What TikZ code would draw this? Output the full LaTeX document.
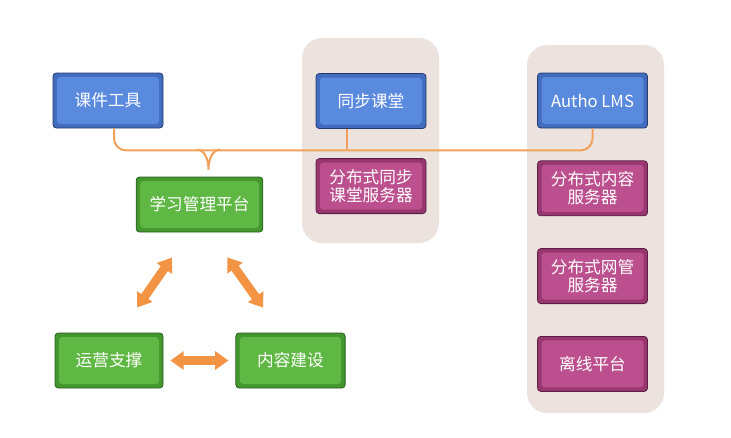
\documentclass[tikz,border=0pt]{standalone}
\usepackage{fontspec}
\setmainfont{Noto Sans CJK SC}
\usetikzlibrary{arrows.meta,positioning}

\definecolor{blueMid}{RGB}{90,138,222}
\definecolor{blueEdge}{RGB}{66,108,190}
\definecolor{blueLine}{RGB}{38,58,110}
\definecolor{greenMid}{RGB}{96,184,68}
\definecolor{greenEdge}{RGB}{68,150,46}
\definecolor{greenLine}{RGB}{40,96,30}
\definecolor{pinkMid}{RGB}{188,80,142}
\definecolor{pinkEdge}{RGB}{152,54,112}
\definecolor{pinkLine}{RGB}{92,30,70}
\definecolor{panel}{RGB}{236,227,223}
\definecolor{linkOrange}{RGB}{240,162,92}
\definecolor{arrowOrange}{RGB}{242,148,68}

\begin{document}
\begin{tikzpicture}[x=0.75pt,y=-0.75pt]

      \tikzstyle{box}=[rectangle,rounded corners=2.5pt,
        minimum width=82.5pt,minimum height=41.25pt,
        text centered,align=center,text=white,line width=0.6pt,
        font=\fontsize{12.5}{13.5}\selectfont]
      \tikzstyle{bluebox}=[box,draw=blueLine,fill=blueEdge,
        path picture={\fill[blueMid]
          ([shift={(3pt,-3pt)}]path picture bounding box.north west) rectangle
          ([shift={(-3pt,3pt)}]path picture bounding box.south east);}]
      \tikzstyle{greenbox}=[box,draw=greenLine,fill=greenEdge,
        path picture={\fill[greenMid]
          ([shift={(3pt,-3pt)}]path picture bounding box.north west) rectangle
          ([shift={(-3pt,3pt)}]path picture bounding box.south east);}]
      \tikzstyle{pinkbox}=[box,draw=pinkLine,fill=pinkEdge,
        path picture={\fill[pinkMid]
          ([shift={(3pt,-3pt)}]path picture bounding box.north west) rectangle
          ([shift={(-3pt,3pt)}]path picture bounding box.south east);}]
      \tikzstyle{link}=[draw=linkOrange,line width=1.5pt]
      \tikzstyle{bigarrow}=[draw=arrowOrange,line width=6.5pt,
        {Triangle[width=13.5pt,length=10pt]}-{Triangle[width=13.5pt,length=10pt]}]

      \useasboundingbox[fill=white] (0,0) rectangle (731,437);

      % grey panels
      \fill[panel,rounded corners=15pt] (302,38) rectangle (439,243);
      \fill[panel,rounded corners=15pt] (527,45) rectangle (664,413);

      \node(KeJian)[bluebox] at (108,100.5){课件工具};
      \node(XueXi)[greenbox,minimum width=95pt] at (199.5,204.5){学习管理平台};

      \node(TongBu)[bluebox] at (371,101){同步课堂};
      \node(TongBuServer)[pinkbox,below=22pt of TongBu]{分布式同步\\课堂服务器};

      \node(Autho)[bluebox] at (592.5,100.5){Autho LMS};
      \node(ContentServer)[pinkbox,below=24pt of Autho]{分布式内容\\服务器};
      \node(NetServer)[pinkbox,below=24pt of ContentServer]{分布式网管\\服务器};
      \node(Offline)[pinkbox,below=24pt of NetServer]{离线平台};

      \node(YunYing)[greenbox,minimum width=81pt] at (109,360.5){运营支撑};
      \node(NeiRong)[greenbox,minimum width=82pt,
        right=54pt of YunYing]{内容建设};

      % orange connector
      \draw[link,rounded corners=9pt]
      ([xshift=4.5pt]KeJian.south) -- ++(0,22) -| (Autho.south);
      \draw[link] ([xshift=-18pt]TongBu.south) -- ++(0,20);

      \coordinate(cusp) at ([xshift=6.75pt,yshift=5.25pt]XueXi.north);
      \coordinate(cuspL) at ([xshift=-9pt,yshift=15pt]cusp);
      \coordinate(cuspR) at ([xshift=9pt,yshift=15pt]cusp);
      \draw[link] (cuspL) .. controls +(6pt,0) and +(0,8pt) .. (cusp)
      .. controls +(0,8pt) and +(-6pt,0) .. (cuspR);

      % block arrows
      \draw[bigarrow,shorten <=5.25pt,shorten >=5.25pt]
      (YunYing) -- (NeiRong);
      \draw[bigarrow,shorten <=23pt,shorten >=23pt]
      ([xshift=8pt]YunYing.north) -- ([xshift=-7.5pt]XueXi.south);
      \draw[bigarrow,shorten <=23pt,shorten >=23pt]
      ([xshift=7.5pt]XueXi.south) -- ([xshift=-7pt]NeiRong.north);

    \end{tikzpicture}
\end{document}
